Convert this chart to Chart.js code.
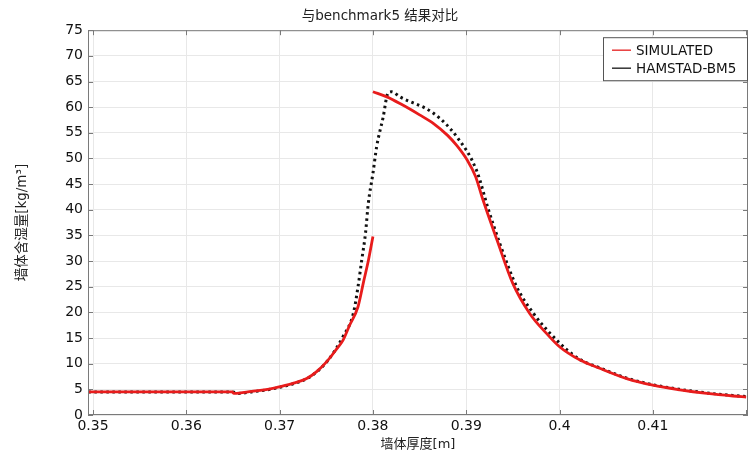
<!DOCTYPE html>
<html>
<head>
<meta charset="utf-8">
<script src="https://cdn.jsdelivr.net/npm/chart.js@4/dist/chart.umd.min.js"></script>
<style>
  body { margin: 0; background: #fff; }
  #wrap { width: 756px; height: 454px; }
</style>
</head>
<body>
<div id="wrap"><canvas id="showGraphBM5" width="756" height="454"></canvas></div>
<script>
var FONT = '"DejaVu Sans", "Noto Sans CJK SC", sans-serif';

// data
var simX = [0.3495, 0.3649, 0.3651, 0.367, 0.369, 0.370, 0.3715, 0.3729, 0.374, 0.375, 0.376, 0.3768, 0.3775, 0.3784, 0.379, 0.3795, 0.380,
            0.380,
            0.380, 0.3815, 0.383, 0.385, 0.3865, 0.388, 0.389, 0.3901, 0.391, 0.3918, 0.3933, 0.395, 0.3968, 0.3986, 0.400, 0.4022, 0.4043, 0.4072, 0.410, 0.4129, 0.4158, 0.4186, 0.420];
var simY = [4.5, 4.5, 4.2, 4.6, 5.1, 5.5, 6.2, 7.1, 8.5, 10.3, 12.6, 14.6, 17.5, 21.1, 26, 30, 34.8,
            null,
            63.0, 62.0, 60.6, 58.5, 56.8, 54.5, 52.5, 49.7, 46.5, 41.9, 34.1, 25.6, 19.8, 15.9, 13.3, 10.7, 9.1, 7.1, 5.8, 4.9, 4.2, 3.7, 3.5];

var bmX = [0.3495, 0.365, 0.3655, 0.367, 0.369, 0.370, 0.3715, 0.3733, 0.3752, 0.3768, 0.3779, 0.3784, 0.3788, 0.3792, 0.3795, 0.380, 0.3804, 0.3811, 0.3816, 0.382,
           0.3829, 0.3865, 0.389, 0.3911, 0.3924, 0.3936, 0.3954, 0.3972, 0.399, 0.4008, 0.4022, 0.4043, 0.4072, 0.410, 0.4129, 0.4158, 0.4186, 0.420];
var bmY = [4.5, 4.5, 4.2, 4.5, 5.0, 5.4, 6.1, 7.5, 10.7, 15.3, 19.8, 25.0, 30.2, 35.4, 41.2, 47.1, 52.3, 58.1, 62.7, 63.0,
           62.0, 58.8, 54.2, 47.7, 39.9, 33.4, 25.0, 19.8, 15.9, 12.7, 10.8, 9.2, 7.2, 5.9, 5.0, 4.3, 3.8, 3.6];

var xTicks = [0.35, 0.36, 0.37, 0.38, 0.39, 0.4, 0.41];
var yTicks = [0, 5, 10, 15, 20, 25, 30, 35, 40, 45, 50, 55, 60, 65, 70, 75];

function toPoints(xs, ys) {
    return xs.map(function (x, i) { return { x: x, y: ys[i] }; });
}

// frame with inward ticks, like the original plot
var framePlugin = {
    id: 'frame',
    afterDatasetsDraw: function (chart) {
        var ctx = chart.ctx, a = chart.chartArea;
        var xs = chart.scales.x, ys = chart.scales.y;
        ctx.save();
        ctx.strokeStyle = '#7a7a7a';
        ctx.lineWidth = 1;
        ctx.strokeRect(a.left + 0.5, a.top + 0.5, a.right - a.left - 1, a.bottom - a.top - 1);
        ctx.beginPath();
        xTicks.concat([0.42]).forEach(function (v) {
            var px = Math.round(xs.getPixelForValue(v)) + 0.5;
            ctx.moveTo(px, a.bottom); ctx.lineTo(px, a.bottom - 5);
            ctx.moveTo(px, a.top); ctx.lineTo(px, a.top + 5);
        });
        yTicks.forEach(function (v) {
            var py = Math.round(ys.getPixelForValue(v)) + 0.5;
            ctx.moveTo(a.left, py); ctx.lineTo(a.left + 5, py);
            ctx.moveTo(a.right, py); ctx.lineTo(a.right - 5, py);
        });
        ctx.stroke();
        ctx.restore();
    }
};

// legend box in the top right corner of the plot
var boxLegend = {
    id: 'boxLegend',
    afterDraw: function (chart) {
        var ctx = chart.ctx, a = chart.chartArea;
        var w = 144, h = 43;
        var x0 = a.right - 145, y0 = a.top + 7;
        ctx.save();
        ctx.fillStyle = '#fff';
        ctx.fillRect(x0, y0, w, h);
        ctx.strokeStyle = '#555';
        ctx.lineWidth = 1;
        ctx.strokeRect(x0 + 0.5, y0 + 0.5, w, h);
        ctx.font = '13.5px ' + FONT;
        ctx.textBaseline = 'middle';
        chart.data.datasets.forEach(function (ds, i) {
            var cy = y0 + 13 + i * 18;
            ctx.strokeStyle = ds.legendColor;
            ctx.lineWidth = 1.5;
            ctx.beginPath();
            ctx.moveTo(x0 + 9, cy); ctx.lineTo(x0 + 28, cy);
            ctx.stroke();
            ctx.fillStyle = '#111';
            ctx.fillText(ds.label, x0 + 33, cy + 1);
        });
        ctx.restore();
    }
};

var config = {
    type: 'line',
    data: {
        datasets: [
            {
                label: 'SIMULATED',
                data: toPoints(simX, simY),
                borderColor: 'rgb(232, 28, 28)',
                legendColor: 'rgb(232, 60, 60)',
                borderWidth: 2.8,
                pointRadius: 0,
                cubicInterpolationMode: 'monotone',
                spanGaps: false
            },
            {
                label: 'HAMSTAD-BM5',
                data: toPoints(bmX, bmY),
                borderColor: '#111',
                legendColor: '#333',
                borderWidth: 3,
                borderDash: [2.5, 3.5],
                pointRadius: 0,
                cubicInterpolationMode: 'monotone'
            }
        ]
    },
    options: {
        animation: false,
        responsive: false,
        layout: { padding: { left: 12, right: 8, top: 2, bottom: 0 } },
        plugins: {
            legend: { display: false },
            tooltip: { enabled: false },
            title: {
                display: true,
                text: '与benchmark5 结果对比',
                color: '#222',
                font: { family: FONT, size: 13.5, weight: 'normal' },
                padding: { top: 6, bottom: 6 }
            }
        },
        scales: {
            x: {
                type: 'linear',
                min: 0.34946,
                max: 0.4202,
                afterBuildTicks: function (scale) {
                    scale.ticks = xTicks.map(function (v) { return { value: v }; });
                },
                afterFit: function (scale) { scale.height = 39; },
                ticks: {
                    color: '#111',
                    padding: 3,
                    maxRotation: 0,
                    autoSkip: false,
                    font: { family: FONT, size: 14 },
                    callback: function (v) { return String(Math.round(v * 100) / 100); }
                },
                grid: { color: '#e8e8e8', drawTicks: false },
                border: { display: false },
                title: {
                    display: true,
                    text: '墙体厚度[m]',
                    color: '#222',
                    font: { family: FONT, size: 13 },
                    padding: { top: 0, bottom: 2 }
                }
            },
            y: {
                min: 0,
                max: 75,
                afterBuildTicks: function (scale) {
                    scale.ticks = yTicks.map(function (v) { return { value: v }; });
                },
                afterFit: function (scale) { scale.width = 76; },
                ticks: {
                    color: '#111',
                    padding: 5,
                    font: { family: FONT, size: 14 }
                },
                grid: { color: '#e8e8e8', drawTicks: false },
                border: { display: false },
                title: {
                    display: true,
                    text: '墙体含湿量[kg/m³]',
                    color: '#222',
                    font: { family: FONT, size: 13.5 },
                    padding: 2
                }
            }
        }
    },
    plugins: [framePlugin, boxLegend]
};

var myChartBM5 = new Chart(document.querySelector('#showGraphBM5').getContext('2d'), config);
</script>
</body>
</html>
